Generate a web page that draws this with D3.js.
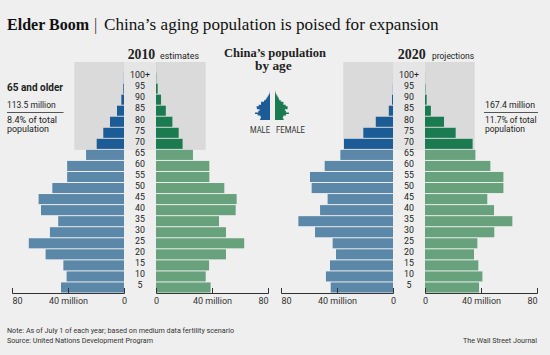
<!DOCTYPE html>
<html><head><meta charset="utf-8">
<script src="https://cdn.jsdelivr.net/npm/d3@7"></script>
<style>
html,body{margin:0;padding:0;background:#efefef;}
svg{display:block;}
</style></head><body>
<svg id="c" width="550" height="355"></svg>
<script>
// ---------- data ----------
const ageGroups = ["0","5","10","15","20","25","30","35","40","45","50","55","60","65","70","75","80","85","90","95","100"];
const ageLabels = ["5","10","15","20","25","30","35","40","45","50","55","60","65","70","75","80","85","90","95","100+"];
const male2010   = [45, 41, 43.3, 56, 68, 52.9, 47, 59.3, 61, 51.2, 40.6, 40.6, 27.1, 19.5, 14.8, 10, 5, 1.9, 0.5, 0.08, 0.01];
const female2010 = [39, 35.5, 37.9, 50, 63, 50, 45, 56.9, 57.6, 48.8, 38.1, 38.1, 26.4, 19, 16.2, 11.7, 7, 3.6, 1.2, 0.2, 0.03];
const male2020   = [44.5, 47.9, 45, 40.7, 43.1, 55.7, 67.6, 52.1, 46.7, 58.1, 59.3, 48.8, 37.6, 35, 21.2, 12.3, 3, 0.7, 0.1, 0.02, 0];
const female2020 = [38.6, 41, 38.1, 35, 37.4, 49.5, 62.4, 49.3, 44.5, 56, 56, 46.7, 36, 34, 21.9, 13.6, 4.2, 1.2, 0.3, 0.05, 0];
const axisTicks = [80, 40, 0];
const axisTickLabels = ["80", "40 million", "0"];
const olderTotals = ["113.5 million", "167.4 million"];
const olderShares = ["8.4% of total", "11.7% of total"];

// ---------- setup ----------
const svg = d3.select("#c");
const W = 550, H = 355;
const SANS = "Roboto, 'Liberation Sans', sans-serif";
const SERIF = "'Liberation Serif', 'DejaVu Serif', serif";
const C = {bg:"#efefef", box:"#dadada", strip:"#e5e5e5",
  mL:"#5b87a9", mD:"#1b5c96", fL:"#68a27c", fD:"#1b7b50", text:"#222"};

svg.append("rect").attr("width", W).attr("height", H).attr("fill", C.bg);

function fit(sel, w) { return sel.attr("textLength", w).attr("lengthAdjust", "spacingAndGlyphs"); }
function txt(x, y, s, size, opts = {}) {
  const t = svg.append("text").attr("x", x).attr("y", y).text(s)
    .attr("font-family", opts.family || SANS).attr("font-size", size)
    .attr("font-weight", opts.weight || "normal").attr("fill", opts.fill || C.text)
    .attr("text-anchor", opts.anchor || "start");
  if (opts.w) fit(t, opts.w);
  return t;
}

const y = d3.scaleBand().domain(ageGroups.slice().reverse())
  .range([61.5, 292.5]).paddingInner(0.09).paddingOuter(0);
const PXM = 1.4; // px per million

function pyramid(mz, fz, male, female) {
  const g = svg.append("g");
  const xm = d3.scaleLinear().domain([0, 80]).range([mz, mz - 80 * PXM]);
  const xf = d3.scaleLinear().domain([0, 80]).range([fz, fz + 80 * PXM]);
  const boxTop = y("100") + 0.5;
  const boxBot = y("65") + y.step();
  g.append("rect").attr("x", xm(35.5)).attr("y", boxTop)
    .attr("width", xf(35.5) - xm(35.5)).attr("height", boxBot - boxTop).attr("fill", C.box);
  g.append("rect").attr("x", mz).attr("y", boxTop)
    .attr("width", fz - mz).attr("height", boxBot - boxTop).attr("fill", C.strip);

  g.selectAll("rect.m").data(ageGroups).join("rect").attr("class", "m")
    .attr("x", (d, i) => xm(male[i])).attr("width", (d, i) => mz - xm(male[i]))
    .attr("y", d => y(d)).attr("height", y.bandwidth())
    .attr("fill", d => +d >= 65 ? C.mD : C.mL);
  g.selectAll("rect.f").data(ageGroups).join("rect").attr("class", "f")
    .attr("x", fz).attr("width", (d, i) => xf(female[i]) - fz)
    .attr("y", d => y(d)).attr("height", y.bandwidth())
    .attr("fill", d => +d >= 65 ? C.fD : C.fL);

  // age labels at the lower boundary of each group
  const cx = (mz + fz) / 2;
  g.selectAll("text.age").data(ageLabels).join("text").attr("class", "age")
    .attr("x", cx).attr("y", (d, i) => y(ageGroups[i + 1]) + y.step() + 5.8)
    .attr("text-anchor", "middle").attr("font-family", SANS).attr("font-size", 8.8)
    .attr("fill", C.text).text(d => d);

  // axes
  [[xm, "start"], [xf, "end"]].forEach(([sc, outerAnchor]) => {
    const ax = g.append("g").attr("transform", "translate(0,293)")
      .call(d3.axisBottom(sc).tickValues(axisTicks)
        .tickFormat((d, i) => axisTickLabels[i])
        .tickSizeInner(-5).tickSizeOuter(-5).tickPadding(5));
    ax.select(".domain").attr("stroke", "#333");
    ax.selectAll(".tick line").attr("stroke", "#333");
    ax.selectAll(".tick text").attr("font-family", SANS).attr("font-size", 9).attr("fill", "#333")
      .attr("text-anchor", d => d === 80 ? outerAnchor : "middle");
  });
}

pyramid(124, 156, male2010, female2010);
pyramid(393, 425, male2020, female2020);

// ---------- title ----------
txt(7, 29.5, "Elder Boom", 17, {family: SERIF, weight: "bold", w: 82, fill: "#111"});
txt(94, 29.5, "|", 16, {family: SERIF, fill: "#333"});
txt(104, 29.5, "China’s aging population is poised for expansion", 17, {family: SERIF, w: 334.5, fill: "#111"});

// ---------- headers ----------
txt(127.7, 59, "2010", 14, {family: SERIF, weight: "bold", w: 27.5});
txt(160, 58.5, "estimates", 9, {w: 39});
txt(397.7, 59, "2020", 14, {family: SERIF, weight: "bold", w: 28});
txt(432, 58.5, "projections", 9, {w: 42});
txt(224, 57, "China’s population", 11.5, {family: SERIF, weight: "bold", w: 102});
txt(255, 70, "by age", 11.5, {family: SERIF, weight: "bold", w: 36.7});

// ---------- icon ----------
const yi = d3.scaleBand().domain(ageGroups.slice().reverse()).range([88, 120]);
const ix = d3.scaleLinear().domain([0, 68]).range([0, 15]);
function iconPath(data, zero, dir) {
  const pts = [[zero, 120]];
  ageGroups.forEach((a, i) => {
    const x = zero + dir * ix(data[i]);
    pts.push([x, yi(a) + yi.bandwidth()]);
    pts.push([x, yi(a)]);
  });
  pts.push([zero, 88]);
  return d3.line()(pts) + "Z";
}
svg.append("path").attr("d", iconPath(male2010, 270, -1)).attr("fill", C.mD);
svg.append("path").attr("d", iconPath(female2010, 275, 1)).attr("fill", C.fD);
txt(250, 133.3, "MALE", 8.5, {w: 20, fill: "#333"});
txt(276, 133.3, "FEMALE", 8.5, {w: 29, fill: "#333"});

// ---------- annotations ----------
txt(7, 91, "65 and older", 11, {weight: "bold", w: 56});
txt(7, 107.7, olderTotals[0], 9.5, {w: 48.7});
svg.append("line").attr("x1", 7).attr("x2", 63.5).attr("y1", 112.5).attr("y2", 112.5).attr("stroke", "#555");
txt(7, 122.5, olderShares[0], 9.5, {w: 50});
txt(7, 132, "population", 9.5, {w: 42});

txt(485, 107.7, olderTotals[1], 9.5, {w: 50});
svg.append("line").attr("x1", 484).attr("x2", 538).attr("y1", 112.5).attr("y2", 112.5).attr("stroke", "#555");
txt(485, 122.5, olderShares[1], 9.5, {w: 51.5});
txt(485, 132, "population", 9.5, {w: 40});

// ---------- footer ----------
txt(7, 333, "Note: As of July 1 of each year; based on medium data fertility scenario", 8, {w: 227, fill: "#333"});
txt(7, 343, "Source: United Nations Development Program", 8, {w: 146, fill: "#333"});
txt(537, 343, "The Wall Street Journal", 8, {anchor: "end", w: 74, fill: "#333"});
</script>
</body></html>
